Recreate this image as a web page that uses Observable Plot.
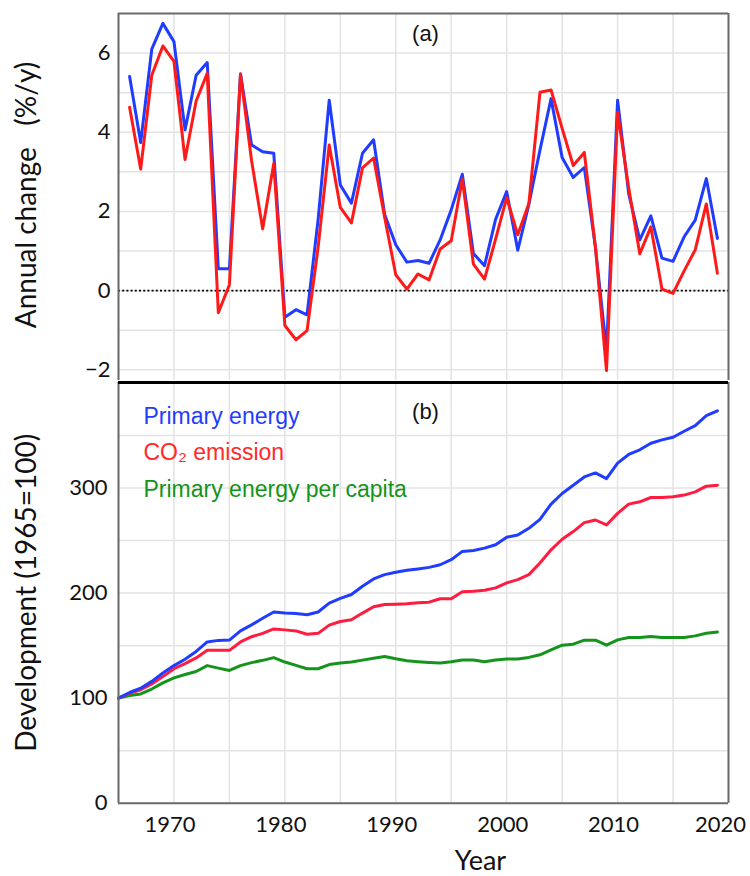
<!DOCTYPE html>
<html><head><meta charset="utf-8">
<script src="https://cdn.jsdelivr.net/npm/d3@7"></script>
<script src="https://cdn.jsdelivr.net/npm/@observablehq/plot@0.6"></script>
<style>
body{margin:0;background:#fff;}
#chart{width:750px;height:876px;position:relative;background:#fff;}
#chart svg{display:block;}
</style></head><body><div id="chart"></div>
<script>
// ---------- data ----------
const changeYears = [1966,1967,1968,1969,1970,1971,1972,1973,1974,1975,1976,1977,1978,1979,1980,1981,1982,1983,1984,1985,1986,1987,1988,1989,1990,1991,1992,1993,1994,1995,1996,1997,1998,1999,2000,2001,2002,2003,2004,2005,2006,2007,2008,2009,2010,2011,2012,2013,2014,2015,2016,2017,2018,2019];
const energyChange = [5.41,3.74,6.10,6.75,6.29,4.06,5.44,5.76,0.55,0.55,5.47,3.68,3.51,3.47,-0.67,-0.48,-0.61,1.8,4.81,2.67,2.21,3.47,3.81,1.92,1.16,0.72,0.76,0.69,1.28,2.04,2.94,0.94,0.63,1.80,2.50,1.02,2.18,3.55,4.85,3.36,2.86,3.11,1.1,-1.51,4.81,2.45,1.28,1.89,0.82,0.74,1.36,1.78,2.83,1.32];
const co2Change = [4.63,3.07,5.44,6.18,5.79,3.31,4.79,5.49,-0.56,0.15,5.47,3.28,1.56,3.21,-0.88,-1.24,-1.01,1.1,3.68,2.10,1.71,3.10,3.35,1.85,0.40,0.04,0.42,0.27,1.05,1.26,2.82,0.67,0.29,1.30,2.35,1.41,2.20,5.01,5.07,4.10,3.16,3.49,1.1,-2.02,4.50,2.60,0.93,1.61,0.04,-0.07,0.50,1.03,2.19,0.44];

const indexYears = [1965,1966,1967,1968,1969,1970,1971,1972,1973,1974,1975,1976,1977,1978,1979,1980,1981,1982,1983,1984,1985,1986,1987,1988,1989,1990,1991,1992,1993,1994,1995,1996,1997,1998,1999,2000,2001,2002,2003,2004,2005,2006,2007,2008,2009,2010,2011,2012,2013,2014,2015,2016,2017,2018,2019];
const energyIndex = [100,105.4,109.5,116,124,131,137,144.5,153.5,155,155.3,164,169.8,176,182,181,180.5,179.4,182,190.5,195,198.7,206.6,213.5,217.6,219.8,221.7,223,224.5,227,231.8,239.7,240.6,242.8,246,253.2,255.4,261.7,270.2,284.7,294.8,302.7,310.6,314.4,309,323.8,332,336.4,342.7,345.9,348.4,354.1,359.5,368.9,373.6];
const co2Index = [100,104.6,108,113.5,120.5,128,132.8,138.3,145.5,145.5,145.5,153.5,158.5,161.7,165.9,165,164,160.8,161.7,169.5,173,174.6,181,187,189.2,189.5,189.8,190.8,191.4,194.6,194.6,201.2,201.8,202.8,205,209.7,212.9,217.6,228.6,241.2,251.3,258.6,267.1,269.6,264.9,275.9,284.7,286.9,291,291,291.7,293.3,296.4,301.8,302.7];
const perCapitaIndex = [100,102.5,104,108.7,114.5,119.3,122.5,125.4,131,128.6,126.4,131,133.8,136,138.6,134.4,131.2,128,128,132,133.4,134.5,136.2,138,139.7,137.5,135.6,134.7,134,133.4,134.7,136.3,136.3,134.7,136.3,137.2,137.2,138.8,141.3,146,150.4,151.4,155.2,155.2,150.4,155.5,157.7,157.7,158.6,157.7,157.7,157.7,159.3,161.8,163];

const seriesNames = ["Primary energy", "CO₂ emission", "Primary energy per capita"];
const xTicks = [1970,1980,1990,2000,2010];
const xTickLast = [2020];
const xGrid = [1965,1970,1975,1980,1985,1990,1995,2000,2005,2010,2015,2020];
const topTicks = [-2,0,2,4,6];
const topGrid = [-2,-1,0,1,2,3,4,5,6];
const bottomTicks = [0,100,200,300];
const bottomGrid = [0,50,100,150,200,250,300,350];
const topTitle = "Annual change\u00a0\u00a0 (%/y)";
const bottomTitle = "Development (1965=100)";
const xTitle = "Year";

// ---------- style ----------
const FONT = "Lato, 'Open Sans', sans-serif";
const HELV = "'Liberation Sans', Arial, sans-serif";
const BLUE = "#1f3cff", RED = "#ff1a1a", RED2 = "#ff1c40", GREEN = "#14941a";
const GRID = "#e3e3e3", FRAME = "#6a6a6a";

const energyRows = changeYears.map((yr, i) => ({year: yr, v: energyChange[i]}));
const co2Rows = changeYears.map((yr, i) => ({year: yr, v: co2Change[i]}));
const eIdx = indexYears.map((yr, i) => ({year: yr, v: energyIndex[i]}));
const cIdx = indexYears.map((yr, i) => ({year: yr, v: co2Index[i]}));
const pIdx = indexYears.map((yr, i) => ({year: yr, v: perCapitaIndex[i]}));

const svgStyle = {fontFamily: FONT, fontSize: "22px", color: "#111", background: "transparent", overflow: "visible"};

const topPlot = Plot.plot({
  width: 750, height: 380,
  marginLeft: 118, marginRight: 22, marginTop: 13, marginBottom: 0,
  style: svgStyle,
  x: {domain: [1965, 2020], axis: null},
  y: {domain: [-2.27, 7]},
  marks: [
    Plot.gridX(xGrid, {stroke: GRID, strokeOpacity: 1, strokeWidth: 1.5}),
    Plot.gridY(topGrid, {stroke: GRID, strokeOpacity: 1, strokeWidth: 1.5}),
    Plot.ruleY([0], {stroke: "#000", strokeWidth: 1.8, strokeDasharray: "2,2.2"}),
    Plot.line(energyRows, {x: "year", y: "v", stroke: BLUE, strokeWidth: 3}),
    Plot.line(co2Rows, {x: "year", y: "v", stroke: RED, strokeWidth: 3}),
    Plot.ruleX([1965, 2020], {stroke: FRAME, strokeWidth: 2}),
    Plot.ruleY([7], {stroke: FRAME, strokeWidth: 2}),
    Plot.axisY(topTicks, {tickSize: 0, tickPadding: 8, label: null, fontSize: 22, fontFamily: FONT}),
    Plot.text(["(a)"], {text: d => d, frameAnchor: "top", lineAnchor: "middle", dx: 2, dy: 20, fontFamily: HELV, fontSize: 22, fill: "#111"}),
    Plot.text([topTitle], {text: d => d, frameAnchor: "left", textAnchor: "middle", lineAnchor: "middle", rotate: -90, dx: -91, dy: -2, fontSize: 28, fontFamily: FONT, fill: "#111"})
  ]
});

const bottomPlot = Plot.plot({
  width: 750, height: 496,
  marginLeft: 118, marginRight: 22, marginTop: 2, marginBottom: 73.3,
  style: svgStyle,
  x: {domain: [1965, 2020]},
  y: {domain: [0, 400.5]},
  marks: [
    Plot.gridX(xGrid, {stroke: GRID, strokeOpacity: 1, strokeWidth: 1.5}),
    Plot.gridY(bottomGrid, {stroke: GRID, strokeOpacity: 1, strokeWidth: 1.5}),
    Plot.line(pIdx, {x: "year", y: "v", stroke: GREEN, strokeWidth: 3}),
    Plot.line(cIdx, {x: "year", y: "v", stroke: RED2, strokeWidth: 3}),
    Plot.line(eIdx, {x: "year", y: "v", stroke: BLUE, strokeWidth: 3}),
    Plot.ruleX([1965, 2020], {stroke: FRAME, strokeWidth: 2}),
    Plot.ruleY([0], {stroke: FRAME, strokeWidth: 2}),
    Plot.ruleY([400.5], {stroke: "#000", strokeWidth: 3}),
    Plot.axisY(bottomTicks, {tickSize: 0, tickPadding: 11, label: null, fontSize: 22, fontFamily: FONT}),
    Plot.axisX(xTicks, {tickSize: 0, tickPadding: 13, dx: -4, label: null, tickFormat: d => String(d), fontSize: 22, fontFamily: FONT}),
    Plot.axisX(xTickLast, {tickSize: 0, tickPadding: 13, dx: -8, label: null, tickFormat: d => String(d), fontSize: 22, fontFamily: FONT}),
    Plot.text([xTitle], {text: d => d, frameAnchor: "bottom", lineAnchor: "middle", dx: 57, dy: 58.5, fontSize: 27, fontFamily: FONT, fill: "#111"}),
    Plot.text([bottomTitle], {text: d => d, frameAnchor: "left", textAnchor: "middle", lineAnchor: "middle", rotate: -90, dx: -91, fontSize: 28, fontFamily: FONT, fill: "#111"}),
    Plot.text(["(b)"], {text: d => d, frameAnchor: "top", lineAnchor: "middle", dx: 2, dy: 29, fontFamily: HELV, fontSize: 22, fill: "#111"}),
    Plot.text([seriesNames[0]], {text: d => d, frameAnchor: "top-left", textAnchor: "start", lineAnchor: "middle", dx: 25, dy: 33.9, fontFamily: HELV, fontSize: 23, fill: BLUE}),
    Plot.text([seriesNames[1]], {text: d => d, frameAnchor: "top-left", textAnchor: "start", lineAnchor: "middle", dx: 25, dy: 70.6, fontFamily: HELV, fontSize: 23, fill: "#ff2a2a"}),
    Plot.text([seriesNames[2]], {text: d => d, frameAnchor: "top-left", textAnchor: "start", lineAnchor: "middle", dx: 25, dy: 107.3, fontFamily: HELV, fontSize: 23, fill: GREEN})
  ]
});

const chart = document.getElementById("chart");
chart.appendChild(topPlot);
chart.appendChild(bottomPlot);
</script>
</body></html>
